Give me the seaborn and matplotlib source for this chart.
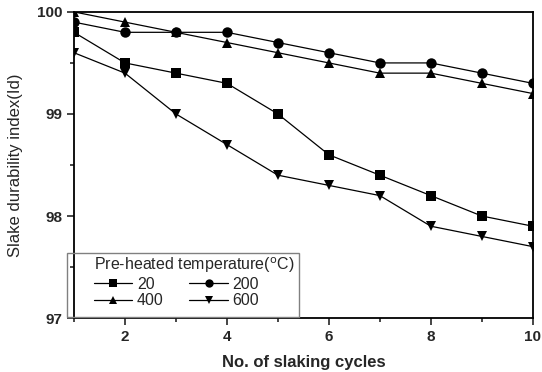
import matplotlib
matplotlib.use("Agg")
import matplotlib.pyplot as plt
import seaborn as sns
import pandas as pd
from matplotlib.ticker import MultipleLocator
from matplotlib.lines import Line2D
from matplotlib.patches import Rectangle

cycles = [1, 2, 3, 4, 5, 6, 7, 8, 9, 10]
temps = ["20", "200", "400", "600"]
id_20 = [99.8, 99.5, 99.4, 99.3, 99.0, 98.6, 98.4, 98.2, 98.0, 97.9]
id_200 = [99.9, 99.8, 99.8, 99.8, 99.7, 99.6, 99.5, 99.5, 99.4, 99.3]
id_400 = [100.0, 99.9, 99.8, 99.7, 99.6, 99.5, 99.4, 99.4, 99.3, 99.2]
id_600 = [99.6, 99.4, 99.0, 98.7, 98.4, 98.3, 98.2, 97.9, 97.8, 97.7]

series = {"20": id_20, "200": id_200, "400": id_400, "600": id_600}
rows = []
for t in temps:
    for c, v in zip(cycles, series[t]):
        rows.append({"cycle": c, "Id": v, "temp": t})
df = pd.DataFrame(rows)

sns.set_style("ticks")
plt.rcParams["font.family"] = ["Liberation Sans", "DejaVu Sans"]

W, H = 542, 372
fig = plt.figure(figsize=(W / 100, H / 100), dpi=100)
ax = fig.add_axes([0.1365, 0.145, 0.983 - 0.1365, 0.968 - 0.145])

markers = {"20": "s", "200": "o", "400": "^", "600": "v"}
palette = {t: "black" for t in temps}
sns.lineplot(data=df, x="cycle", y="Id", hue="temp", style="temp",
             markers=markers, dashes=False, palette=palette,
             hue_order=temps, style_order=temps,
             markersize=7.5, linewidth=0.9, markeredgewidth=0,
             ax=ax, legend=False)

ax.set_xlim(1, 10)
ax.set_ylim(97, 100)
ax.xaxis.set_major_locator(MultipleLocator(2))
ax.xaxis.set_minor_locator(MultipleLocator(1))
ax.yaxis.set_major_locator(MultipleLocator(1))
ax.yaxis.set_minor_locator(MultipleLocator(0.5))
ax.tick_params(which="both", direction="out", top=False, right=False)
ax.tick_params(which="major", length=5, width=1.2, labelsize=11)
ax.tick_params(which="minor", length=3, width=1.2)
for lab in ax.get_xticklabels() + ax.get_yticklabels():
    lab.set_fontweight("bold")
for s in ax.spines.values():
    s.set_linewidth(1.3)
    s.set_color("black")

ax.set_xlabel("No. of slaking cycles", fontsize=12, fontweight="bold", labelpad=8)
ax.set_ylabel("Slake durability index(Id)", fontsize=12, labelpad=10)

order = ["20", "400", "200", "600"]
handles = [Line2D([], [], color="black", lw=0.9, marker=markers[t], markersize=6,
                  markeredgewidth=0) for t in order]
leg = ax.legend(handles, order, title="Pre-heated temperature($^{\\rm o}$C)",
                ncol=2, loc="upper left",
                bbox_to_anchor=(86 / W, 1 - 247 / H), bbox_transform=fig.transFigure,
                frameon=False, fontsize=11.5, title_fontsize=11.5,
                handlelength=2.4, columnspacing=1.6, handletextpad=0.3,
                labelspacing=0.12, borderpad=0.0)
leg._legend_box.align = "left"
fig.patches.append(Rectangle((67 / W, 1 - 317 / H), 232 / W, 64 / H,
                             transform=fig.transFigure, fill=False,
                             edgecolor="gray", linewidth=1.0, zorder=5))

fig.savefig("out.png", dpi=100)
